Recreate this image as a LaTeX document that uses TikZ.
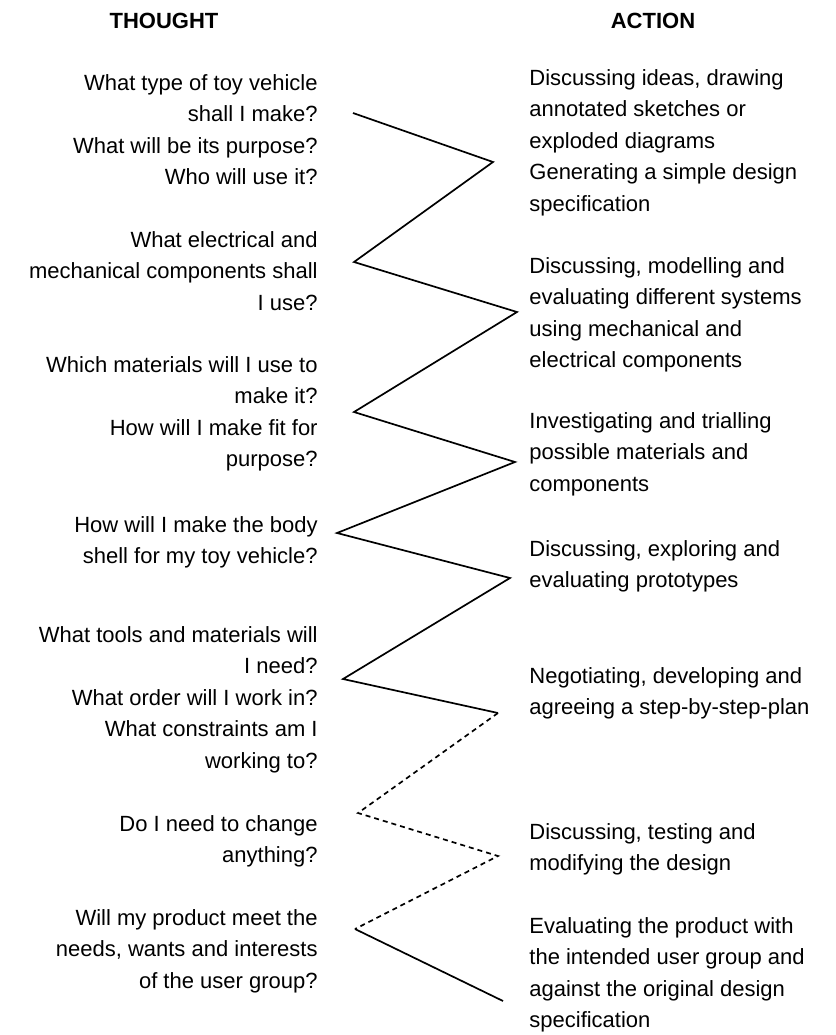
\documentclass[tikz,border=0pt]{standalone}
\usepackage{fontspec}
\setmainfont{Liberation Sans}
\usetikzlibrary{positioning}
\tikzset{
heading/.style = {font = \fontsize{11}{15.75}\selectfont\bfseries, inner sep = 0pt},
thought/.style = {font = \fontsize{11}{15.75}\selectfont, align = right,
   anchor = north east, inner sep = 0pt},
action/.style = {font = \fontsize{11}{15.75}\selectfont, align = left,
   anchor = north west, inner sep = 0pt},
zig/.style = {line width = 0.85pt, line join = miter},
zigdash/.style = {zig, dash pattern = on 2.5pt off 2pt}
}

\begin{document}
\begin{tikzpicture}[x = 0.5pt, y = -0.5pt]

\useasboundingbox (0,0) rectangle (836,1035);

%% Headings
\node [heading] (thoughthead) at (164,21) {THOUGHT};
\node [heading] (actionhead) at (653,21) {ACTION};

%% Thoughts (right aligned)
\foreach \i/\y/\txt in {
   1/84/{What type of toy vehicle\\shall I make?\\What will be its purpose?\\Who will use it?},
   2/241/{What electrical and\\mechanical components shall\\I use?},
   3/366/{Which materials will I use to\\make it?\\How will I make fit for\\purpose?},
   4/526/{How will I make the body\\shell for my toy vehicle?},
   5/636/{What tools and materials will\\I need?\\What order will I work in?\\What constraints am I\\working to?},
   6/825/{Do I need to change\\anything?},
   7/919/{Will my product meet the\\needs, wants and interests\\of the user group?}} {
   \node [thought] (t\i) at (318, \y - 16) {\strut\txt};
}

%% Actions (left aligned)
\foreach \i/\y/\txt in {
   1/79/{Discussing ideas, drawing\\annotated sketches or\\exploded diagrams\\Generating a simple design\\specification},
   2/267/{Discussing, modelling and\\evaluating different systems\\using mechanical and\\electrical components},
   3/422/{Investigating and trialling\\possible materials and\\components},
   4/550/{Discussing, exploring and\\evaluating prototypes},
   5/677/{Negotiating, developing and\\agreeing a step-by-step-plan},
   6/833/{Discussing, testing and\\modifying the design},
   7/927/{Evaluating the product with\\the intended user group and\\against the original design\\specification}} {
   \node [action] (a\i) at (529, \y - 16) {\strut\txt};
}

%% Zigzag
\foreach \n/\x/\y in {0/353/113, 1/493/162, 2/354/262, 3/517/312, 4/354/412,
   5/515/462, 6/337/533, 7/510/578, 8/343/679, 9/498/713, 10/358/813,
   11/498/856, 12/355/929, 13/503/1001}
   \coordinate (z\n) at (\x, \y);

\draw [zig] (z0) -- (z1) -- (z2) -- (z3) -- (z4) -- (z5) -- (z6) -- (z7)
   -- (z8) -- (z9);
\draw [zigdash] (z9) -- (z10) -- (z11) -- (z12);
\draw [zig] (z12) -- (z13);

\end{tikzpicture}
\end{document}
